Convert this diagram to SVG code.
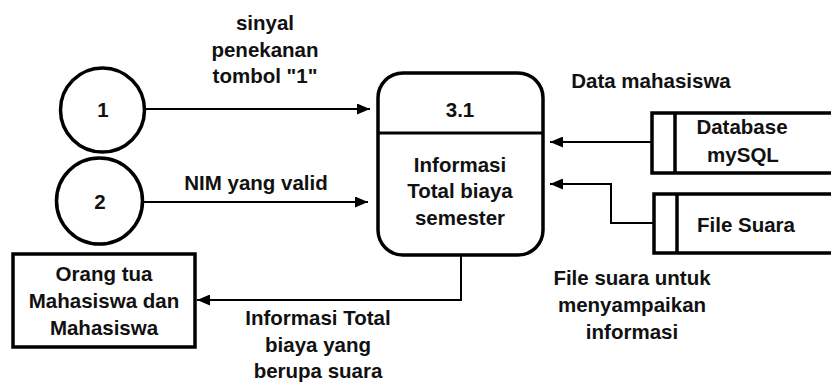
<svg xmlns="http://www.w3.org/2000/svg" width="831" height="385" viewBox="0 0 831 385">
<defs>
<marker id="ah" markerUnits="userSpaceOnUse" markerWidth="14" markerHeight="11" refX="13" refY="5.5" orient="auto">
<path d="M0,0 L13,5.5 L0,11 z" fill="#000"/>
</marker>
<style>
text{font-family:"Liberation Sans",Arial,sans-serif;font-weight:bold;font-size:20.5px;fill:#111;text-anchor:middle}
.shape{fill:#fff;stroke:#000;stroke-width:3.5}
.store{fill:none;stroke:#000;stroke-width:3.5}
.flow{fill:none;stroke:#000;stroke-width:2}
</style>
</defs>
<rect width="831" height="385" fill="#fff"/>
<g id="connectors">
<line class="flow" x1="145" y1="109" x2="370" y2="109" marker-end="url(#ah)"/>
<line class="flow" x1="143" y1="202" x2="368" y2="202" marker-end="url(#ah)"/>
<line class="flow" x1="652" y1="142" x2="550" y2="142" marker-end="url(#ah)"/>
<polyline class="flow" points="654,223 611,223 611,184 550,184" marker-end="url(#ah)"/>
<polyline class="flow" points="461,255 461,300 197,300" marker-end="url(#ah)"/>
<text x="265" y="30">sinyal</text>
<text x="265" y="57">penekanan</text>
<text x="265" y="83">tombol "1"</text>
<text x="256" y="190">NIM yang valid</text>
<text x="651" y="88">Data mahasiswa</text>
<text x="632" y="285">File suara untuk</text>
<text x="632" y="312">menyampaikan</text>
<text x="632" y="339">informasi</text>
<text x="318" y="325">Informasi Total</text>
<text x="318" y="352">biaya yang</text>
<text x="318" y="378">berupa suara</text>
</g>
<g id="node-1">
<circle class="shape" cx="102.5" cy="110" r="42"/>
<text x="103" y="117">1</text>
</g>
<g id="node-2">
<circle class="shape" cx="99.5" cy="201" r="43"/>
<text x="100" y="209">2</text>
</g>
<g id="process-3-1">
<rect class="shape" x="378" y="73" width="165" height="182" rx="25"/>
<line x1="378" y1="133" x2="543" y2="133" stroke="#000" stroke-width="3"/>
<text x="460" y="117">3.1</text>
<text x="460" y="172">Informasi</text>
<text x="460" y="198">Total biaya</text>
<text x="460" y="225">semester</text>
</g>
<g id="entity-orangtua">
<rect class="shape" x="13" y="254" width="182" height="93"/>
<text x="104" y="281">Orang tua</text>
<text x="104" y="308">Mahasiswa dan</text>
<text x="104" y="335">Mahasiswa</text>
</g>
<g id="store-database">
<path class="store" d="M833,113 H652 V173 H833"/>
<line x1="675" y1="113" x2="675" y2="173" stroke="#000" stroke-width="3.5"/>
<text x="742" y="134">Database</text>
<text x="743" y="162">mySQL</text>
</g>
<g id="store-filesuara">
<path class="store" d="M833,194 H654 V253 H833"/>
<line x1="677" y1="194" x2="677" y2="253" stroke="#000" stroke-width="3.5"/>
<text x="746" y="232">File Suara</text>
</g>
</svg>
